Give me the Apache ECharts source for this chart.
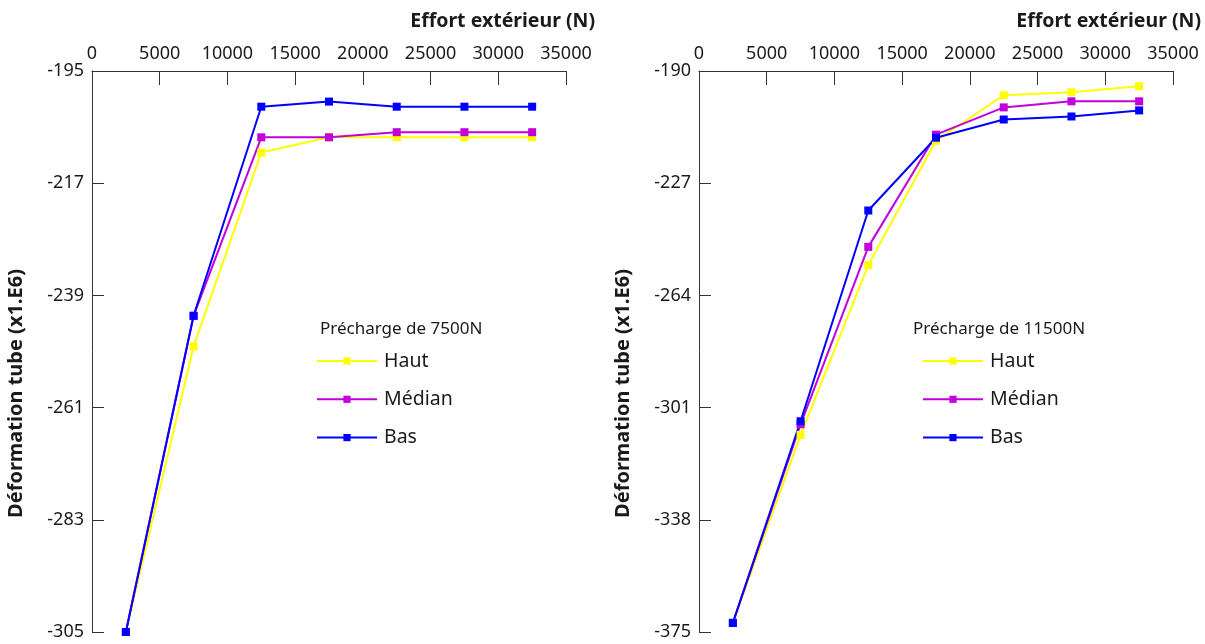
<!DOCTYPE html>
<html>
<head>
<meta charset="utf-8">
<title>Déformation tube</title>
<script src="https://cdn.jsdelivr.net/npm/echarts@6/dist/echarts.min.js"></script>
<style>
    html, body { margin: 0; padding: 0; background: #fff; }
    #chart { width: 1205px; height: 644px; }
</style>
</head>
<body>
<div id="chart"></div>
<script>
// effort extérieur (N)
var effort = [2500, 7500, 12500, 17500, 22500, 27500, 32500];

// précharge de 7500N
var haut7500 = [-305, -249, -211, -208, -208, -208, -208];
var median7500 = [-305, -243, -208, -208, -207, -207, -207];
var bas7500 = [-305, -243, -202, -201, -202, -202, -202];

// précharge de 11500N
var haut11500 = [-372, -310, -254, -213, -198, -197, -195];
var median11500 = [-372, -306.5, -248, -211, -202, -200, -200];
var bas11500 = [-372, -305.5, -236, -212, -206, -205, -203];

var xTicks = [0, 35000, 5000];
var yTicks7500 = [-305, -283, -261, -239, -217, -195];
var yTicks11500 = [-375, -338, -301, -264, -227, -190];

var seriesNames = ['Haut', 'Médian', 'Bas'];
var seriesColors = ['#ffff00', '#c200dc', '#0000ff'];

var font = 'Noto Sans';
var textColor = '#1a1a1a';
var axisColor = '#333';

function pairs(ys) {
    return effort.map(function (x, i) { return [x, ys[i]]; });
}

function makeX(gridIndex) {
    return {
        type: 'value',
        gridIndex: gridIndex,
        position: 'top',
        min: xTicks[0],
        max: xTicks[1],
        interval: xTicks[2],
        axisLine: { lineStyle: { color: axisColor, width: 1 } },
        axisTick: { inside: true, length: 14, lineStyle: { color: axisColor } },
        axisLabel: {
            color: textColor, fontFamily: font, fontSize: 18, margin: 8,
            formatter: function (v) { return String(v); }
        },
        splitLine: { show: false }
    };
}

function makeY(gridIndex, ticks) {
    return {
        type: 'value',
        gridIndex: gridIndex,
        min: ticks[0],
        max: ticks[ticks.length - 1],
        name: 'Déformation tube (x1.E6)',
        nameLocation: 'middle',
        nameGap: 66,
        nameTextStyle: {
            color: textColor, fontFamily: font, fontSize: 20, fontWeight: 'bold',
            padding: [0, 84, 0, 0]
        },
        axisLine: { lineStyle: { color: axisColor, width: 1 } },
        axisTick: { inside: true, length: 12, customValues: ticks, lineStyle: { color: axisColor } },
        axisLabel: { color: textColor, fontFamily: font, fontSize: 18, margin: 8, customValues: ticks },
        splitLine: { show: false }
    };
}

function makeSeries(name, color, ys, idx) {
    return {
        name: name,
        type: 'line',
        xAxisIndex: idx,
        yAxisIndex: idx,
        data: pairs(ys),
        symbol: 'rect',
        symbolSize: 8,
        showAllSymbol: true,
        lineStyle: { color: color, width: 2 },
        itemStyle: { color: color }
    };
}

function makeLegend(left) {
    return {
        data: seriesNames,
        orient: 'vertical',
        left: left,
        top: 351,
        itemWidth: 60,
        itemHeight: 9,
        itemGap: 18.3,
        padding: 0,
        textStyle: { color: textColor, fontFamily: font, fontSize: 19.5, padding: [0, 0, 0, 2] }
    };
}

var chart = echarts.init(document.getElementById('chart'));

var option = {
    backgroundColor: '#fff',
    animation: false,
    title: [
        { text: 'Effort extérieur (N)', right: 610, top: 11, padding: 0,
          textStyle: { color: textColor, fontFamily: font, fontSize: 19.5, fontWeight: 'bold' } },
        { text: 'Effort extérieur (N)', right: 4, top: 11, padding: 0,
          textStyle: { color: textColor, fontFamily: font, fontSize: 19.5, fontWeight: 'bold' } },
        { text: 'Précharge de 7500N', left: 320, top: 321, padding: 0,
          textStyle: { color: textColor, fontFamily: font, fontSize: 17, fontWeight: 'normal' } },
        { text: 'Précharge de 11500N', left: 913, top: 321, padding: 0,
          textStyle: { color: textColor, fontFamily: font, fontSize: 17, fontWeight: 'normal' } }
    ],
    legend: [makeLegend(316), makeLegend(922)],
    grid: [
        { left: 92, top: 71, width: 474, height: 561 },
        { left: 699, top: 71, width: 474, height: 561 }
    ],
    xAxis: [makeX(0), makeX(1)],
    yAxis: [makeY(0, yTicks7500), makeY(1, yTicks11500)],
    series: [
        makeSeries(seriesNames[0], seriesColors[0], haut7500, 0),
        makeSeries(seriesNames[1], seriesColors[1], median7500, 0),
        makeSeries(seriesNames[2], seriesColors[2], bas7500, 0),
        makeSeries(seriesNames[0], seriesColors[0], haut11500, 1),
        makeSeries(seriesNames[1], seriesColors[1], median11500, 1),
        makeSeries(seriesNames[2], seriesColors[2], bas11500, 1)
    ]
};

chart.setOption(option);
</script>
</body>
</html>
